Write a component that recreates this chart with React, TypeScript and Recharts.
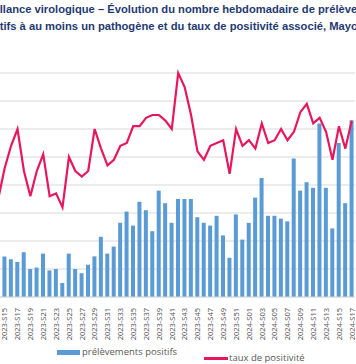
import React from 'react';
import { ComposedChart, Bar, Line, XAxis, YAxis, CartesianGrid } from 'recharts';

// semaines (S14 2023 est tronquée à gauche dans l'original)
const weeks = [
  '2023-S14', '2023-S15', '2023-S16', '2023-S17', '2023-S18', '2023-S19', '2023-S20', '2023-S21',
  '2023-S22', '2023-S23', '2023-S24', '2023-S25', '2023-S26', '2023-S27', '2023-S28', '2023-S29',
  '2023-S30', '2023-S31', '2023-S32', '2023-S33', '2023-S34', '2023-S35', '2023-S36', '2023-S37',
  '2023-S38', '2023-S39', '2023-S40', '2023-S41', '2023-S42', '2023-S43', '2023-S44', '2023-S45',
  '2023-S46', '2023-S47', '2023-S48', '2023-S49', '2023-S50', '2023-S51', '2023-S52', '2024-S01',
  '2024-S02', '2024-S03', '2024-S04', '2024-S05', '2024-S06', '2024-S07', '2024-S08', '2024-S09',
  '2024-S10', '2024-S11', '2024-S12', '2024-S13', '2024-S14', '2024-S15', '2024-S16', '2024-S17',
];

const positiveSamples = [
  30, 29, 27, 25, 32, 20, 21, 31, 19, 20, 10, 31, 20, 17, 23, 29,
  43, 31, 36, 53, 61, 51, 68, 62, 47, 76, 67, 53, 70, 70, 70, 57,
  53, 51, 58, 44, 28, 59, 41, 53, 71, 85, 58, 58, 56, 54, 99, 76,
  82, 78, 124, 78, 49, 110, 67, 126,
];

const positivityRate = [
  35, 46, 54, 60, 45, 36, 45, 51, 36, 37, 32, 50, 45, 43, 45, 60,
  53, 47, 49, 54, 55, 61, 61, 64, 65, 65, 63, 60, 80, 75, 65, 52,
  49, 54, 55, 56, 44, 60, 54, 56, 53, 62, 55, 56, 60, 56, 59, 66,
  69, 62, 64, 59, 49, 61, 53, 63,
];

const leftTicks = [0, 20, 40, 60, 80, 100, 120, 140, 160];

const data = weeks.map((week, i) => ({
  week,
  samples: positiveSamples[i],
  rate: positivityRate[i],
}));

function WeekTick(props: any) {
  const { x, y, payload } = props;
  const i = weeks.indexOf(payload.value);
  if (i % 2 === 0) return <g />;
  const tx = x + 2.8;
  const ty = y + 3;
  return (
    <text
      x={tx}
      y={ty}
      transform={`rotate(-90, ${tx}, ${ty})`}
      textAnchor="end"
      fontSize={7.5}
      fontFamily="'Noto Sans', sans-serif"
      fill="#595959"
    >
      {payload.value}
    </text>
  );
}

const titleStyle: React.CSSProperties = {
  position: 'absolute',
  whiteSpace: 'nowrap',
  fontFamily: "'Liberation Sans', Arial, sans-serif",
  fontWeight: 'bold',
  fontSize: 11.2,
  lineHeight: '13px',
  color: '#1F3A73',
};

const legendText: React.CSSProperties = {
  position: 'absolute',
  whiteSpace: 'nowrap',
  fontFamily: "'Open Sans', sans-serif",
  fontSize: 9.5,
  lineHeight: '12px',
  color: '#595959',
};

export default function App() {
  return (
    <div
      style={{
        position: 'absolute',
        left: 0,
        top: 0,
        width: 356,
        height: 364,
        overflow: 'hidden',
        background: '#fff',
      }}
    >
      <div style={{ ...titleStyle, left: -34.5, top: 3 }}>
        Surveillance virologique – Évolution du nombre hebdomadaire de prélèvements
      </div>
      <div style={{ ...titleStyle, left: -23.3, top: 20 }}>
        positifs à au moins un pathogène et du taux de positivité associé, Mayotte
      </div>

      <div style={{ position: 'absolute', left: -5, top: 0 }}>
        <ComposedChart
          width={360}
          height={364}
          data={data}
          margin={{ top: 73, right: 0, left: 0, bottom: 27 }}
        >
          <CartesianGrid vertical={false} stroke="#d9d9d9" yAxisId="left" />
          <XAxis
            dataKey="week"
            interval={0}
            height={40}
            tickLine={false}
            axisLine={{ stroke: '#d9d9d9' }}
            tick={(p: any) => <WeekTick {...p} />}
          />
          <YAxis yAxisId="left" domain={[0, 160]} ticks={leftTicks} hide />
          <YAxis yAxisId="right" orientation="right" domain={[0, 80]} hide />
          <Bar
            yAxisId="left"
            dataKey="samples"
            fill="#5b9bd5"
            barSize={4}
            isAnimationActive={false}
          />
          <Line
            yAxisId="right"
            type="linear"
            dataKey="rate"
            stroke="#e8175d"
            strokeWidth={2.2}
            dot={false}
            isAnimationActive={false}
          />
        </ComposedChart>
      </div>

      <div
        style={{
          position: 'absolute',
          left: 57,
          top: 350,
          width: 23,
          height: 5,
          background: '#5b9bd5',
        }}
      />
      <div style={{ ...legendText, left: 82, top: 346 }}>prélèvements positifs</div>

      <div
        style={{
          position: 'absolute',
          left: 204,
          top: 357,
          width: 24,
          height: 3,
          background: '#e8175d',
        }}
      />
      <div style={{ ...legendText, left: 229, top: 352 }}>taux de positivité</div>
    </div>
  );
}
